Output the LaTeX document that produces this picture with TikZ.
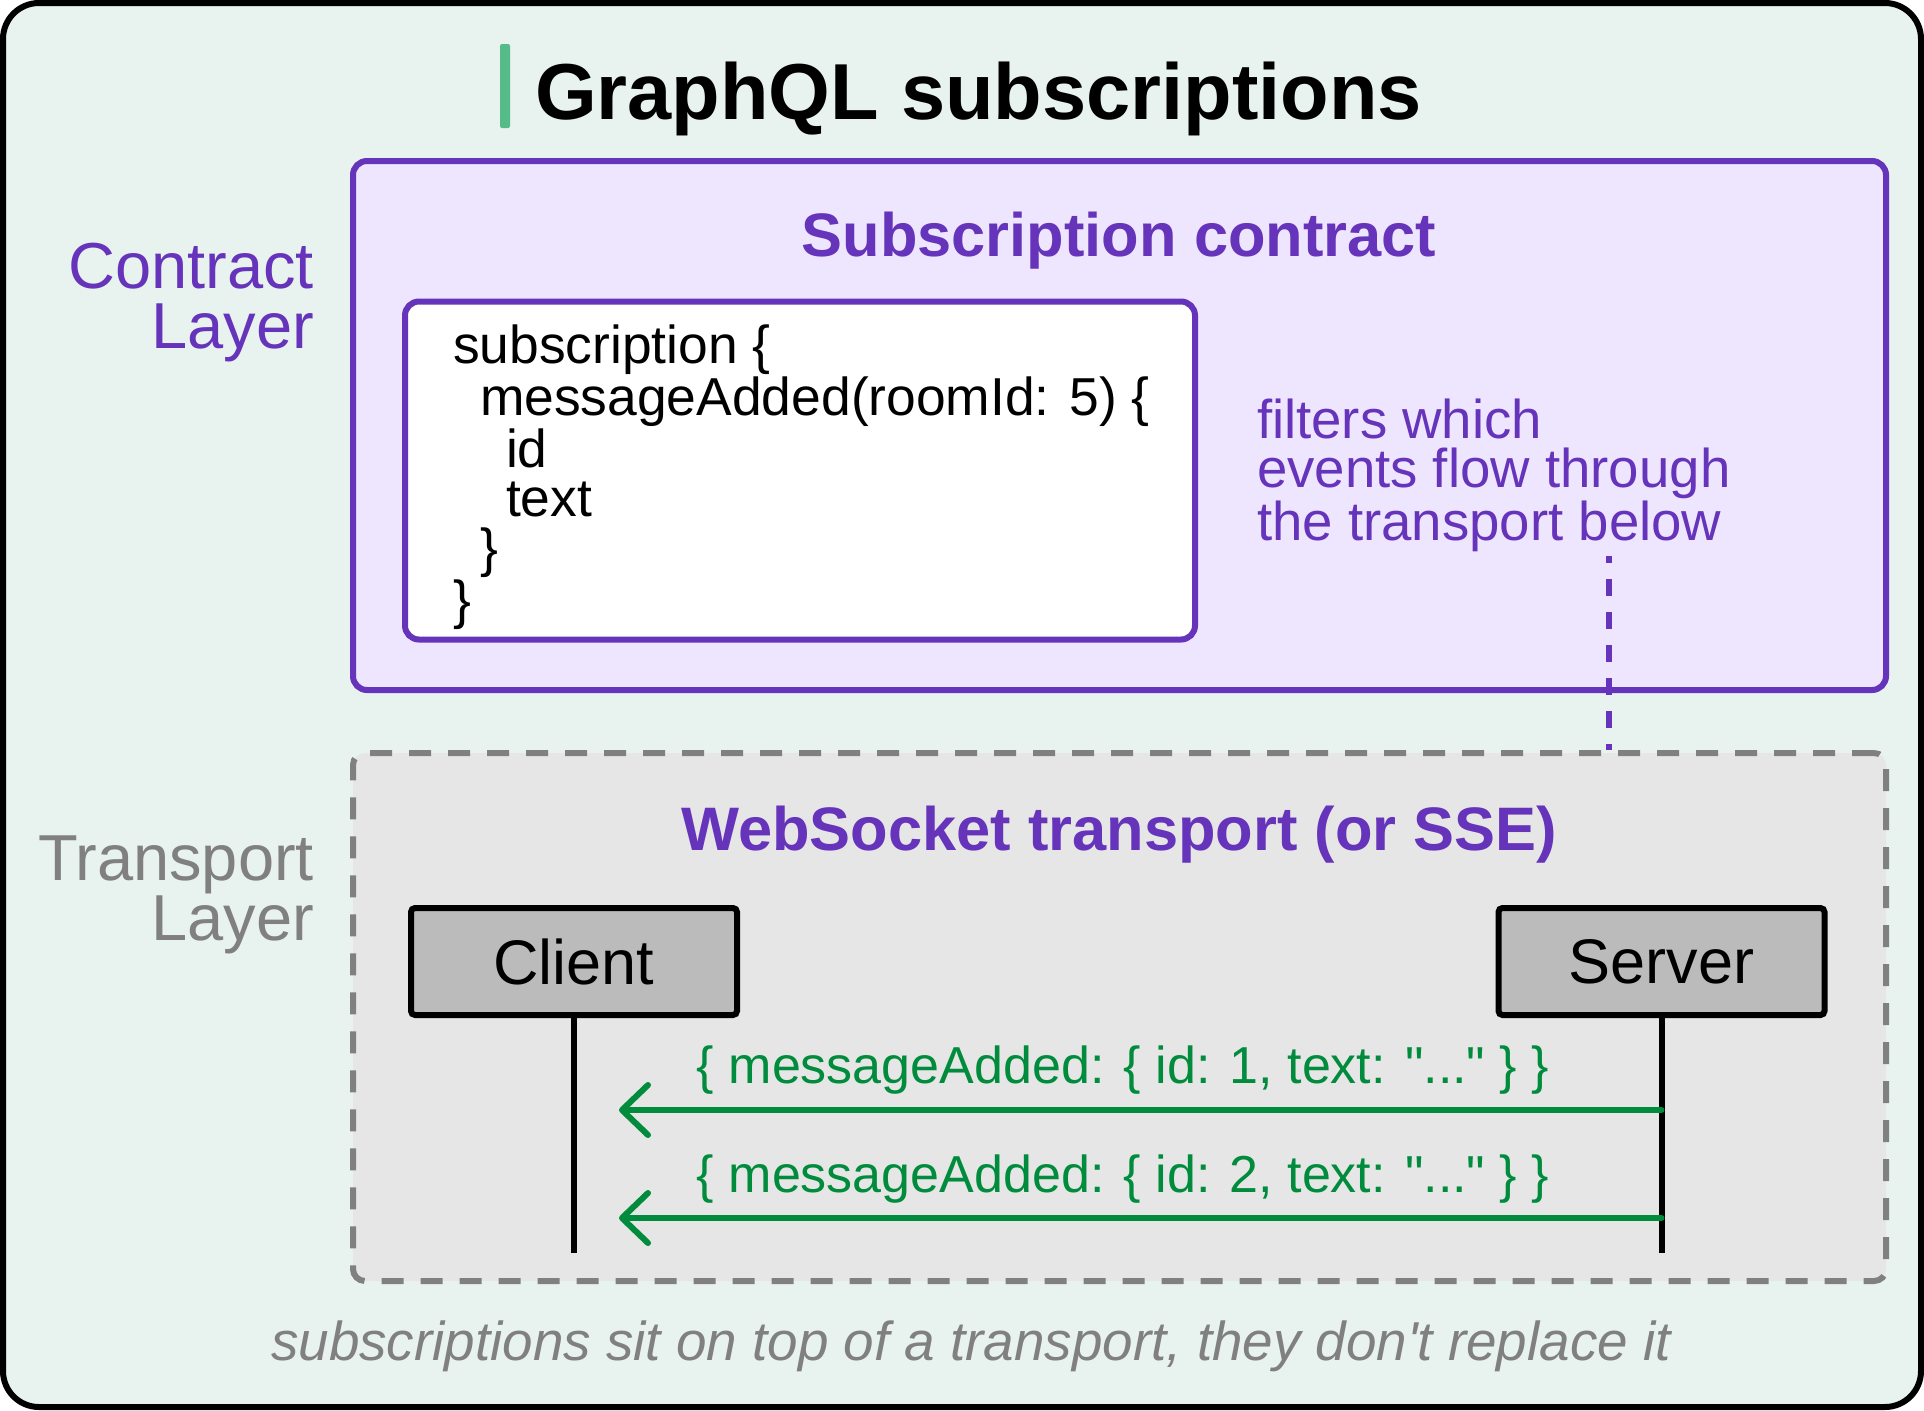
\documentclass[tikz,border=0pt]{standalone}
\usepackage{fontspec}
\setmainfont{Liberation Sans}[Ligatures=TeXOff]
\usetikzlibrary{arrows.meta}
\definecolor{bgc}{HTML}{E8F3EF}
\definecolor{lav}{HTML}{EEE6FE}
\definecolor{purp}{HTML}{6633BB}
\definecolor{grayline}{HTML}{808080}
\definecolor{grayfill}{HTML}{E6E6E6}
\definecolor{actorfill}{HTML}{BBBBBB}
\definecolor{grn}{HTML}{008C3C}
\definecolor{barc}{HTML}{55BB88}
\begin{document}
\begin{tikzpicture}[x=0.5pt,y=-0.5pt,
  frame/.style={draw=black, line width=3pt, fill=bgc, rounded corners=18pt, inner sep=0pt},
  contractbox/.style={draw=purp, line width=3pt, fill=lav, rounded corners=7pt, inner sep=0pt},
  codebox/.style={draw=purp, line width=3pt, fill=white, rounded corners=7pt, inner sep=0pt},
  transportbox/.style={draw=grayline, line width=3pt, fill=grayfill, rounded corners=6pt, dash pattern=on 11pt off 8.5pt, inner sep=0pt},
  actor/.style={draw=black, line width=3pt, fill=actorfill, rounded corners=2pt, inner sep=0pt, minimum width=163pt, minimum height=53.5pt, font=\fontsize{31.5}{36}\selectfont},
  txt/.style={inner sep=0pt, outer sep=0pt},
  codetxt/.style={txt, anchor=base west, align=left, font=\fontsize{26.7}{24.8}\selectfont},
  notetxt/.style={txt, anchor=base west, align=left, text=purp, font=\fontsize{27.3}{24.5}\selectfont},
  layertxt/.style={txt, anchor=base east, font=\fontsize{32.5}{36}\selectfont},
  headtxt/.style={txt, anchor=base, text=purp, font=\bfseries\fontsize{30.7}{36}\selectfont},
  msgtxt/.style={txt, anchor=base, text=grn, font=\fontsize{26}{30}\selectfont},
  life/.style={draw=black, line width=3pt},
  msg/.style={draw=grn, line width=3pt, line cap=round, -{Straight Barb[length=13pt,width=25pt,line cap=round,line join=round]}},
  dotline/.style={draw=purp, line width=3.2pt, dash pattern=on 8.5pt off 8pt, dash phase=5pt}
]
\useasboundingbox (0,0) rectangle (1924,1410);

% outer frame
\node[frame, minimum width=959pt, minimum height=702pt] (frame) at (962,705) {};

% title
\fill[barc, rounded corners=1pt] (500,44) rectangle (510,128);
\node[txt, anchor=base west, font=\bfseries\fontsize{39.7}{46}\selectfont] (title) at (535,119) {GraphQL subscriptions};

% layer labels
\node[layertxt, text=purp] (cl1) at (314,288) {Contract};
\node[layertxt, text=purp] (cl2) at (314,348) {Layer};
\node[layertxt, text=grayline] (tl1) at (314,880) {Transport};
\node[layertxt, text=grayline] (tl2) at (314,940) {Layer};

% contract layer
\node[contractbox, minimum width=766.5pt, minimum height=264.5pt] (contract) at (1119.5,425.5) {};
\node[headtxt] (chead) at (1119,256) {Subscription contract};
\node[codebox, minimum width=395pt, minimum height=169pt] (code) at (800,470.5) {};
\node[codetxt] (codetext) at (453,618) {subscription \{\\
\hspace*{13.5pt}messageAdded(roomId: 5) \{\\
\hspace*{26.5pt}id\\
\hspace*{26.5pt}text\\
\hspace*{13.5pt}\}\\
\}};
\node[notetxt] (note) at (1257,540) {filters which\\events flow through\\the transport below};

% transport layer
\node[transportbox, minimum width=766.5pt, minimum height=264pt] (transport) at (1119.5,1017) {};
\node[headtxt] (thead) at (1119,850) {WebSocket transport (or SSE)};

% dotted connector
\coordinate (dtop) at (1609,556);
\draw[dotline] (dtop) -- (dtop |- transport.north);

% actors
\node[actor] (client) at (574,961.5) {Client};
\node[actor] (server) at (1661.5,961.5) {Server};
\coordinate (cend) at (574,1253);
\coordinate (send) at (1661.5,1253);
\draw[life] (client.south) -- (cend);
\draw[life] (server.south) -- (send);

% messages
\coordinate (m1s) at (1661.5,1110);
\coordinate (m1e) at (619,1110);
\coordinate (m2s) at (1661.5,1218);
\coordinate (m2e) at (619,1218);
\node[msgtxt] (l1) at (1123,1083) {\{ messageAdded: \{ id: 1, text: "..." \} \}};
\node[msgtxt] (l2) at (1123,1192) {\{ messageAdded: \{ id: 2, text: "..." \} \}};
\draw[msg] (m1s) -- (m1e);
\draw[msg] (m2s) -- (m2e);

% footer
\node[txt, anchor=base, text=grayline, font=\itshape\fontsize{27.4}{32}\selectfont] (foot) at (971,1360) {subscriptions sit on top of a transport, they don't replace it};
\end{tikzpicture}
\end{document}
